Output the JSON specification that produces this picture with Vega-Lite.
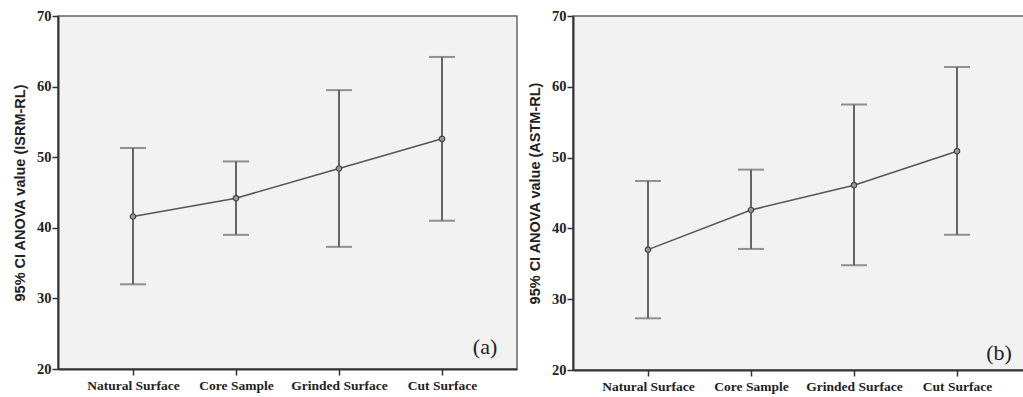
{
  "$schema": "https://vega.github.io/schema/vega-lite/v6.json",
  "background": "white",
  "padding": {"left": 11, "top": 7, "right": 0, "bottom": 0},
  "spacing": 8,
  "config": {
    "view": {"fill": "#f2f2f2", "stroke": "#666", "strokeWidth": 1.5},
    "axis": {
      "domainColor": "#333", "domainWidth": 2, "tickColor": "#333", "tickWidth": 1.5, "tickSize": 6,
      "labelFont": "Liberation Serif", "labelFontWeight": "bold", "labelColor": "#222",
      "titleFont": "Liberation Sans", "titleFontWeight": "bold", "titleColor": "#222", "titleFontSize": 14.5,
      "grid": false
    }
  },
  "datasets": {
    "a": [
      {"cat": "Natural Surface", "mean": 41.6, "lo": 32.0, "hi": 51.3},
      {"cat": "Core Sample", "mean": 44.2, "lo": 39.0, "hi": 49.4},
      {"cat": "Grinded  Surface", "mean": 48.4, "lo": 37.3, "hi": 59.5},
      {"cat": "Cut Surface", "mean": 52.6, "lo": 41.0, "hi": 64.2}
    ],
    "b": [
      {"cat": "Natural Surface", "mean": 37.0, "lo": 27.3, "hi": 46.7},
      {"cat": "Core Sample", "mean": 42.6, "lo": 37.1, "hi": 48.3},
      {"cat": "Grinded  Surface", "mean": 46.1, "lo": 34.8, "hi": 57.5},
      {"cat": "Cut Surface", "mean": 50.9, "lo": 39.1, "hi": 62.8}
    ]
  },
  "hconcat": [
    {
      "width": 459, "height": 353,
      "data": {"name": "a"},
      "encoding": {
        "x": {"field": "cat", "type": "nominal", "sort": null,
          "scale": {"type": "point", "padding": 0.728},
          "axis": {"title": null, "labelAngle": 0, "labelFontSize": 13.5, "labelPadding": 3}}
      },
      "layer": [
        {"mark": {"type": "rule", "color": "#666", "strokeWidth": 2},
         "encoding": {"y": {"field": "lo", "type": "quantitative", "scale": {"domain": [20, 70], "nice": false},
           "axis": {"values": [20, 30, 40, 50, 60, 70], "labelFontSize": 14.5, "labelPadding": 1, "titlePadding": 9}, "title": "95% CI ANOVA value (ISRM-RL)"},
           "y2": {"field": "hi"}}},
        {"mark": {"type": "tick", "color": "#666", "size": 26, "thickness": 2},
         "encoding": {"y": {"field": "hi", "type": "quantitative", "title": "95% CI ANOVA value (ISRM-RL)"}}},
        {"mark": {"type": "tick", "color": "#666", "size": 26, "thickness": 2},
         "encoding": {"y": {"field": "lo", "type": "quantitative", "title": "95% CI ANOVA value (ISRM-RL)"}}},
        {"mark": {"type": "line", "color": "#555", "strokeWidth": 1.5},
         "encoding": {"y": {"field": "mean", "type": "quantitative", "title": "95% CI ANOVA value (ISRM-RL)"}}},
        {"mark": {"type": "point", "shape": "circle", "size": 30, "filled": true, "fill": "#999", "stroke": "#444", "strokeWidth": 1.2, "opacity": 1},
         "encoding": {"y": {"field": "mean", "type": "quantitative", "title": "95% CI ANOVA value (ISRM-RL)"}}},
        {"data": {"values": [{"cat": "Cut Surface", "v": 23.05, "lab": "(a)"}]},
         "mark": {"type": "text", "dx": 43, "font": "Liberation Serif", "fontSize": 22, "color": "#222", "baseline": "middle", "align": "center"},
         "encoding": {"y": {"field": "v", "type": "quantitative", "title": "95% CI ANOVA value (ISRM-RL)"}, "text": {"field": "lab"}}}
      ]
    },
    {
      "width": 459, "height": 354,
      "data": {"name": "b"},
      "encoding": {
        "x": {"field": "cat", "type": "nominal", "sort": null,
          "scale": {"type": "point", "padding": 0.728},
          "axis": {"title": null, "labelAngle": 0, "labelFontSize": 13.5, "labelPadding": 3}}
      },
      "layer": [
        {"mark": {"type": "rule", "color": "#666", "strokeWidth": 2},
         "encoding": {"y": {"field": "lo", "type": "quantitative", "scale": {"domain": [20, 70], "nice": false},
           "axis": {"values": [20, 30, 40, 50, 60, 70], "labelFontSize": 14.5, "labelPadding": 1, "titlePadding": 9}, "title": "95% CI ANOVA value (ASTM-RL)"},
           "y2": {"field": "hi"}}},
        {"mark": {"type": "tick", "color": "#666", "size": 26, "thickness": 2},
         "encoding": {"y": {"field": "hi", "type": "quantitative", "title": "95% CI ANOVA value (ASTM-RL)"}}},
        {"mark": {"type": "tick", "color": "#666", "size": 26, "thickness": 2},
         "encoding": {"y": {"field": "lo", "type": "quantitative", "title": "95% CI ANOVA value (ASTM-RL)"}}},
        {"mark": {"type": "line", "color": "#555", "strokeWidth": 1.5},
         "encoding": {"y": {"field": "mean", "type": "quantitative", "title": "95% CI ANOVA value (ASTM-RL)"}}},
        {"mark": {"type": "point", "shape": "circle", "size": 30, "filled": true, "fill": "#999", "stroke": "#444", "strokeWidth": 1.2, "opacity": 1},
         "encoding": {"y": {"field": "mean", "type": "quantitative", "title": "95% CI ANOVA value (ASTM-RL)"}}},
        {"data": {"values": [{"cat": "Cut Surface", "v": 22.4, "lab": "(b)"}]},
         "mark": {"type": "text", "dx": 42, "font": "Liberation Serif", "fontSize": 22, "color": "#222", "baseline": "middle", "align": "center"},
         "encoding": {"y": {"field": "v", "type": "quantitative", "title": "95% CI ANOVA value (ASTM-RL)"}, "text": {"field": "lab"}}}
      ]
    }
  ]
}
